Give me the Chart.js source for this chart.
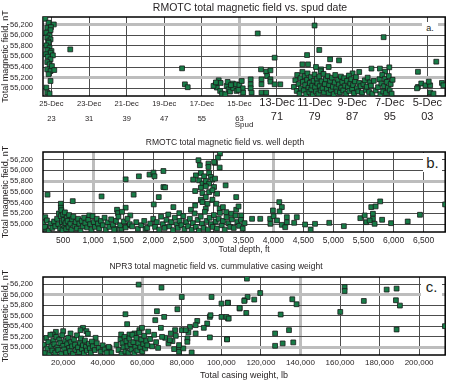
<!DOCTYPE html>
<html>
<head>
<meta charset="utf-8">
<script src="https://cdn.jsdelivr.net/npm/chart.js@4.4.1/dist/chart.umd.min.js"></script>
<style>
  body { margin: 0; background: #fff; }
  #wrap { position: relative; width: 450px; height: 381px; font-family: "Liberation Sans", Arial, sans-serif; color: #231f20; }
  canvas { position: absolute; left: 0; }
  .ttl { position: absolute; width: 300px; text-align: center; white-space: nowrap; z-index: 2; }
  .tag { position: absolute; background: #fff; text-align: center; z-index: 2; }
</style>
</head>
<body>
<div id="wrap">
  <div class="ttl" style="left:100px;top:0;font-size:10.5px;line-height:14px;">RMOTC total magnetic field vs. spud date</div>
  <div class="ttl" style="left:75px;top:136px;font-size:8.5px;line-height:12px;">RMOTC total magnetic field vs. well depth</div>
  <div class="ttl" style="left:66px;top:260px;font-size:8.5px;line-height:12px;">NPR3 total magnetic field vs. cummulative casing weight</div>
  <canvas id="chartA" width="450" height="130" style="top:0"></canvas>
  <canvas id="chartB" width="450" height="125" style="top:130px"></canvas>
  <canvas id="chartC" width="450" height="126" style="top:255px"></canvas>
  <div class="tag" style="left:422px;top:22px;width:16px;height:13px;font-size:9px;line-height:13px;">a.</div>
  <div class="tag" style="left:423px;top:153px;width:19px;height:19px;font-size:15px;line-height:19px;">b.</div>
  <div class="tag" style="left:421px;top:278px;width:21px;height:18px;font-size:15px;line-height:18px;">c.</div>
</div>
<script>
// 纵轴：总磁场 nT
const fieldTicks = [55000, 55200, 55400, 55600, 55800, 56000, 56200];

// a. 开钻日期（年份）
const spudTicks = [1923, 1931, 1939, 1947, 1955, 1963, 1971, 1979, 1987, 1995, 2003];
const spudDays = ['25-Dec', '23-Dec', '21-Dec', '19-Dec', '17-Dec', '15-Dec', '13-Dec', '11-Dec', '9-Dec', '7-Dec', '5-Dec'];
const spudYears = ['23', '31', '39', '47', '55', '63', '71', '79', '87', '95', '03'];
const spudData = [
  [1921.7,56307],[1922.4,56232],[1923.5,56200],[1922.1,56138],[1922.9,56150],[1922.8,56093],[1921.9,56044],
  [1922.6,55994],[1922.1,55951],[1922.8,55919],[1922.3,55880],[1922.4,55857],[1921.9,55806],[1922.6,55763],
  [1922.1,55718],[1923.0,55700],[1922.8,55669],[1921.8,55640],[1923.3,55619],[1922.2,55594],[1922.8,55544],
  [1922.1,55493],[1922.6,55450],[1923.1,55418],[1922.1,55356],[1922.8,55324],[1923.6,55343],[1922.4,55263],
  [1922.8,55137],[1921.9,55013],[1922.1,54919],[1922.6,54901],
  [1927.0,55731],
  [1950.8,55375],[1951.4,55075],[1952.0,55020],
  [1957.9,55062],[1958.6,55150],[1958.2,55013],[1958.9,54950],[1959.3,54900],[1960.0,54888],[1960.3,55044],
  [1960.7,54981],[1961.0,54938],[1961.6,55088],[1961.7,55000],[1962.3,55075],[1962.4,54950],[1963.0,55062],
  [1963.5,55137],[1963.7,55000],[1963.8,54919],[1957.5,55044],[1959.0,55100],[1960.5,55120],[1961.2,55060],
  [1962.8,54970],[1958.0,55110],
  [1965.4,55169],[1965.4,55075],[1965.4,55000],[1965.6,54919],
  [1967.6,55356],[1968.7,55313],[1969.6,55338],[1968.9,55231],[1969.6,55169],[1967.7,55169],[1967.7,55075],
  [1969.6,55125],[1970.5,55075],[1971.7,55075],[1967.7,54919],[1968.7,54919],
  [1966.9,56031],[1970.5,55575],
  [1979.0,56180],[1980.0,55720],[1977.4,55625],[1976.4,55450],[1977.6,55450],[1979.3,55400],[1980.4,55356],
  [1982.3,55545],[1984.2,55525],[1982.0,55400],[1980.3,55320],[1993.7,55960],[1991.1,55370],[1992.9,55370],
  [1994.9,55394],[1994.0,55313],[1987.1,55281],[1988.5,55306],
  [1974.6,55025],[1974.9,55150],[1975.2,54950],[1975.3,55250],[1975.6,55080],[1975.8,54900],[1976.0,55190],
  [1976.1,55000],[1976.4,55310],[1976.5,55120],[1976.7,54960],[1976.9,55230],[1977.0,55060],[1977.2,54890],
  [1977.4,55160],[1977.5,55280],[1977.7,55010],[1977.9,54930],[1978.0,55100],[1978.2,55210],[1978.3,54980],
  [1978.5,55050],[1978.6,54880],[1978.8,55140],[1979.0,55260],[1979.1,55020],[1979.3,54940],[1979.5,55180],
  [1979.6,55090],[1979.8,54900],[1980.0,55220],[1980.1,55040],[1980.3,54960],[1980.5,55130],[1980.7,55000],
  [1980.9,55270],[1981.0,54920],[1981.2,55080],[1981.4,55170],[1981.6,54990],[1981.8,55230],[1982.0,54910],
  [1982.1,55060],[1982.3,55140],[1982.5,54970],[1982.7,55200],[1982.9,55030],[1983.1,54890],[1983.3,55110],
  [1983.4,55250],[1983.6,55000],[1983.8,54940],[1984.0,55160],[1984.2,55070],[1984.4,54920],[1984.6,55220],
  [1984.7,55010],[1984.9,55120],[1985.1,54960],[1985.3,55190],[1985.5,55050],[1985.7,54900],[1985.9,55140],
  [1986.1,55020],[1986.3,55240],[1986.4,54950],[1986.6,55090],[1986.8,55170],[1987.0,54990],[1987.2,55060],
  [1987.4,54910],[1987.6,55130],[1987.8,55210],[1988.0,55000],[1988.3,54940],[1988.5,55100],[1988.8,55040],
  [1989.1,54920],[1989.4,55080],[1989.7,55150],[1989.9,54970],[1990.1,55030],[1990.3,55200],[1990.6,54930],
  [1990.8,55110],[1991.0,55050],[1991.3,54900],[1991.6,55140],[1992.0,54960],[1992.5,55020],[1992.8,55170],
  [1993.0,54890],[1993.2,55090],[1993.4,55250],[1993.6,54940],[1993.8,55040],[1994.0,55180],[1994.2,54910],
  [1994.4,55120],[1994.6,55010],[1994.8,55230],[1995.0,54960],[1995.2,55080],[1995.4,54900],[1995.6,55160],
  [2001.0,55310],[2004.9,55500],[2001.0,55025],[2001.7,55090],[2002.6,55056],[2003.6,55056],[2003.3,55125],
  [2003.6,54920],[2004.3,54900],[2006.1,55100],[2006.4,55056],[2000.8,55000]
];

// b. 井深 ft
const depthTicks = [500, 1000, 1500, 2000, 2500, 3000, 3500, 4000, 4500, 5000, 5500, 6000, 6500];
const depthData = [
  [240,55548],[202,55130],[174,55019],[219,54914],[660,55428],[462,55380],[462,55306],[1140,55516],
  [1541,55833],[1761,55889],[1674,55548],[1938,55920],[2004,55957],[2021,55889],[2169,55987],[2169,55689],
  [2092,55503],[2009,55367],[1397,55268],[1414,55205],[1541,55306],[1618,55162],[1717,55037],[1596,54976],
  [1745,54914],[1872,54914],[1470,54914],[1376,54914],[935,55162],[2198,55684],
  [3111,56312],[3078,56237],[3029,56137],[3106,56051],[2753,56187],[2776,56094],[2919,56125],[2919,56062],
  [3013,56155],[2710,55907],[2793,55950],[2847,55889],[2930,55950],[2958,55876],[2665,55827],[2764,55814],
  [2819,55752],[2875,55801],[2985,55827],[3029,55846],[2930,55752],[2875,55702],[2793,55678],[3013,55690],
  [3205,55721],[2698,55615],[2819,55578],[2930,55596],[2985,55628],[2875,55503],[2793,55454],[2819,55410],
  [3062,55566],[3381,55503],[2902,55380],[2985,55454],[2698,55348],[2875,55287],[3051,55380],[3106,55287],
  [3160,55317],[3215,55224],[3298,55194],[3381,55268],[3420,55330],[3464,55162],[2628,55268],[2335,55317],
  [2434,55205],
  [3645,55100],[3781,55100],[3946,55100],[4098,55410],[3992,55255],[4141,55317],[4103,55237],[4004,55149],
  [4060,55069],[3950,55007],[4141,54988],[4197,54944],[4224,55130],[4224,55037],[4390,55130],[4346,55026],
  [4528,54994],[4621,54901],[4693,55007],[4930,55026],[5173,54963],[5447,55112],[5520,55162],[5546,55037],
  [5629,55317],[5702,55330],[5778,55423],[5657,55194],[5657,55100],[5685,55007],[5602,55069],[5810,55082],
  [5959,55019],[6236,55050],[6440,55175],[6858,55367],
  [200,54950],[230,55070],[260,54880],[290,55010],[320,54930],[350,55050],[370,54960],[400,55100],
  [420,55000],[430,55200],[450,54920],[460,55150],[470,55260],[480,55040],[490,54890],[500,55180],
  [510,55080],[520,54970],[530,55220],[540,55020],[550,54910],[560,55120],[575,55060],[590,54950],
  [600,55170],[620,55010],[640,54900],[650,55090],[670,55140],[690,54970],[710,55040],[730,54920],
  [750,55100],[770,55010],[790,54880],[810,55060],[830,54960],[850,55120],[870,55020],[900,54940],
  [920,55080],[950,55000],[970,54900],[990,55150],[1010,55040],[1030,54950],[1060,55100],[1080,55010],
  [1100,54920],[1130,55060],[1160,54980],[1190,55120],[1210,54900],[1240,55030],[1270,54950],[1300,55090],
  [1330,54990],[1350,54900],[1380,55060],[1420,55140],[1450,54980],[1480,55230],[1510,55050],[1540,54940],
  [1570,55100],[1610,55000],[1650,54960],
  [1800,54980],[1850,55060],[1900,54930],[1950,55010],[2000,55100],[2030,54950],[2060,55040],[2100,54900],
  [2130,55140],[2160,55000],[2190,54930],[2220,55080],[2250,55180],[2270,54960],[2300,55040],[2330,54890],
  [2360,55120],[2390,55000],[2410,54930],[2440,55060],[2470,54980],[2500,55150],[2520,54910],[2550,55040],
  [2580,54960],[2610,55100],[2640,54900],[2660,55020],[2690,55200],[2710,54950],[2740,55080],[2760,54880],
  [2790,55140],[2810,55010],[2840,54930],[2860,55230],[2890,55060],[2910,54900],[2940,55120],[2960,55000],
  [2990,54950],[3010,55170],[3040,55050],[3060,54920],[3090,55100],[3110,55210],[3140,54980],[3160,55060],
  [3190,54900],[3220,55130],[3250,55020],[3280,54950],[3310,55090],[3340,54930],[3370,55160],[3400,55040],
  [3430,54970],[3460,55080],[3490,54920],[3520,55020]
];

// c. 累计套管重量 lb
const weightTicks = [20000, 40000, 60000, 80000, 100000, 120000, 140000, 160000, 180000, 200000];
const weightData = [
  [58170,56195],[51490,55631],[52350,55442],[16330,55296],[20000,55309],[23720,55265],[14680,55246],
  [30040,55372],[31750,55309],[28740,55328],[36420,55182],[40940,54992],[43460,54992],[44310,54905],
  [49330,55246],[53500,55246],[56010,55265],[58520,55328],[59860,55372],
  [69720,56138],[79970,55959],[95040,55959],[100060,55834],[103370,55853],[109250,55739],[111760,55897],
  [67410,55688],[77760,55726],[66570,55518],[71080,55580],[87800,55504],[94180,55580],[100060,55580],
  [103370,55550],[87000,55423],[92830,55455],[84140,55391],[79970,55328],[76600,55328],[83330,55284],
  [82830,55171],[91130,55372],[94180,55190],[102870,55157],[74450,55265],[76950,55220],[69420,55372],
  [75250,55119],[76100,54968],[78610,54992],[78610,54917],[84990,54905],[73240,55076],[71590,55182],
  [73940,55138],[82780,55106],[87000,55265],[82000,55328],[80770,54981],[78610,55044],[94520,55612],
  [112920,56308],[119650,56035],[113270,55959],[111600,55884],[116630,55910],[103220,55846],[109250,55751],
  [112600,55656],[102550,55580],[103720,55550],[102870,55152],[135870,55916],[138030,55821],[130000,55626],
  [127180,55265],[134210,55328],[131000,55076],[127180,55030],[136370,55095],[162340,56149],[162340,56073],
  [160130,55675],[172040,55884],[183600,56100],[188620,56119],[188280,55897],[190290,55796],[188620,55341],
  [213060,55404],
  [10500,55050],[11000,54900],[11500,55180],[12000,54980],[12500,55100],[13000,54870],[13500,55240],
  [14000,55020],[14500,54940],[15000,55130],[15500,55060],[16000,54900],[16500,55200],[17000,55000],
  [17500,54950],[18000,55150],[18500,55080],[19000,54880],[19500,55230],[20000,55030],[20500,54960],
  [21000,55120],[21500,54900],[22000,55060],[22500,55180],[23000,54990],[23500,54930],[24000,55100],
  [24500,55020],[25000,54880],[25500,55150],[26000,55050],[26500,54950],[27000,55230],[27500,55000],
  [28000,54910],[28500,55090],[29000,55170],[29500,54970],[30000,55040],[30500,54890],[31000,55130],
  [31500,55010],[32000,54940],[32500,55260],[33000,55070],[33500,54980],[34000,54900],[34500,55110],
  [35000,55020],[36000,54950],[37000,55080],[38000,54990],[39000,54920],[40000,55040],[41000,54960],
  [42000,54900],[43000,55010],
  [47000,55050],[48000,54950],[49000,55150],[49500,54880],[50000,55080],[50500,55000],[51000,55200],
  [51500,54920],[52000,55120],[52500,55020],[53000,54900],[53500,55170],[54000,55060],[54500,54960],
  [55000,55240],[55500,55100],[56000,54890],[56500,55010],[57000,55180],[57500,54940],[58000,55080],
  [58500,55280],[59000,55000],[59500,55150],[60000,54920],[60500,55060],[61000,55220],[61500,54980],
  [62000,55120],[62500,55040],[63000,55300],[64000,55160],[65000,55020],[66000,55240],[67000,55100],
  [68000,54990],[70000,55200]
];

// 加粗的灰色网格线
const spudGrayX = [1963], spudGrayY = [55200, 56200];
const depthGrayX = [1000, 4000], depthGrayY = [55800];
const weightGrayX = [60000, 140000], weightGrayY = [55000, 56000];

const FONT = '"Liberation Sans", Arial, sans-serif';
const INK = '#231f20';
const fmt = v => v.toLocaleString('en-US');

// 绘图区黑框
const framePlugin = {
  id: 'frame',
  beforeDatasetsDraw(chart) {
    const a = chart.chartArea, c = chart.ctx;
    c.save();
    c.strokeStyle = '#000';
    c.lineWidth = 1.5;
    c.strokeRect(a.left, a.top, a.right - a.left, a.bottom - a.top);
    c.restore();
  }
};

function renderPanel(canvasId, points, o) {
  const ctx = document.getElementById(canvasId);
  const gridColor = gray => c => (c.tick && gray.includes(c.tick.value)) ? '#bdbdbd' : '#4d4d4d';
  const gridWidth = gray => c => (c.tick && gray.includes(c.tick.value)) ? 3 : 1;

  return new Chart(ctx, {
    type: 'scatter',
    data: {
      datasets: [{
        data: points.map(p => ({ x: p[0], y: p[1] })),
        pointStyle: 'rect',
        pointRadius: 3.4,
        backgroundColor: '#177c47',
        borderColor: '#1b1b1b',
        borderWidth: 0.8
      }]
    },
    options: {
      responsive: false,
      animation: false,
      layout: { padding: { top: o.top, right: 2, left: 0, bottom: 0 } },
      plugins: { legend: { display: false }, tooltip: { enabled: false } },
      scales: {
        x: {
          type: 'linear',
          min: o.xMin,
          max: o.xMax,
          afterBuildTicks: s => { s.ticks = o.xTicks.map(v => ({ value: v })); },
          afterFit: s => { s.height = o.xHeight; },
          border: { display: false },
          grid: { color: gridColor(o.grayX), lineWidth: gridWidth(o.grayX), drawTicks: false },
          ticks: {
            autoSkip: false,
            maxRotation: 0,
            padding: o.xPad,
            color: INK,
            font: o.xFont,
            callback: o.xLabel
          },
          title: { display: true, text: o.xTitle, color: INK, padding: 0, font: { family: FONT, size: o.xTitleSize } }
        },
        y: {
          min: 54855,
          max: 56340,
          afterBuildTicks: s => { s.ticks = fieldTicks.map(v => ({ value: v })); },
          afterFit: s => { s.width = 43; },
          border: { display: false },
          grid: { color: gridColor(o.grayY), lineWidth: gridWidth(o.grayY), drawTicks: false },
          ticks: { padding: 10, color: INK, font: { family: FONT, size: 7.5 }, callback: v => fmt(v) },
          title: { display: true, text: 'Total magnetic field, nT', color: INK, padding: { top: 0, bottom: 0 }, font: { family: FONT, size: 9 } }
        }
      }
    },
    plugins: [framePlugin]
  });
}

renderPanel('chartA', spudData, {
  top: 17, xMin: 1921.2, xMax: 2006.8, xTicks: spudTicks, xHeight: 34, xPad: 0,
  grayX: spudGrayX, grayY: spudGrayY,
  xFont: c => c.index < 6
    ? { family: FONT, size: 7.5, lineHeight: '15px' }
    : { family: FONT, size: 11, lineHeight: '14px' },
  xLabel: (v, i) => [spudDays[i], spudYears[i]],
  xTitle: 'Spud', xTitleSize: 8
});

renderPanel('chartB', depthData, {
  top: 22, xMin: 165, xMax: 6860, xTicks: depthTicks, xHeight: 23, xPad: 4,
  grayX: depthGrayX, grayY: depthGrayY,
  xFont: { family: FONT, size: 8.5 },
  xLabel: v => fmt(v),
  xTitle: 'Total depth, ft', xTitleSize: 8.5
});

renderPanel('chartC', weightData, {
  top: 22, xMin: 9800, xMax: 213200, xTicks: weightTicks, xHeight: 26, xPad: 3,
  grayX: weightGrayX, grayY: weightGrayY,
  xFont: { family: FONT, size: 8 },
  xLabel: v => fmt(v),
  xTitle: 'Total casing weight, lb', xTitleSize: 9
});
</script>
</body>
</html>
